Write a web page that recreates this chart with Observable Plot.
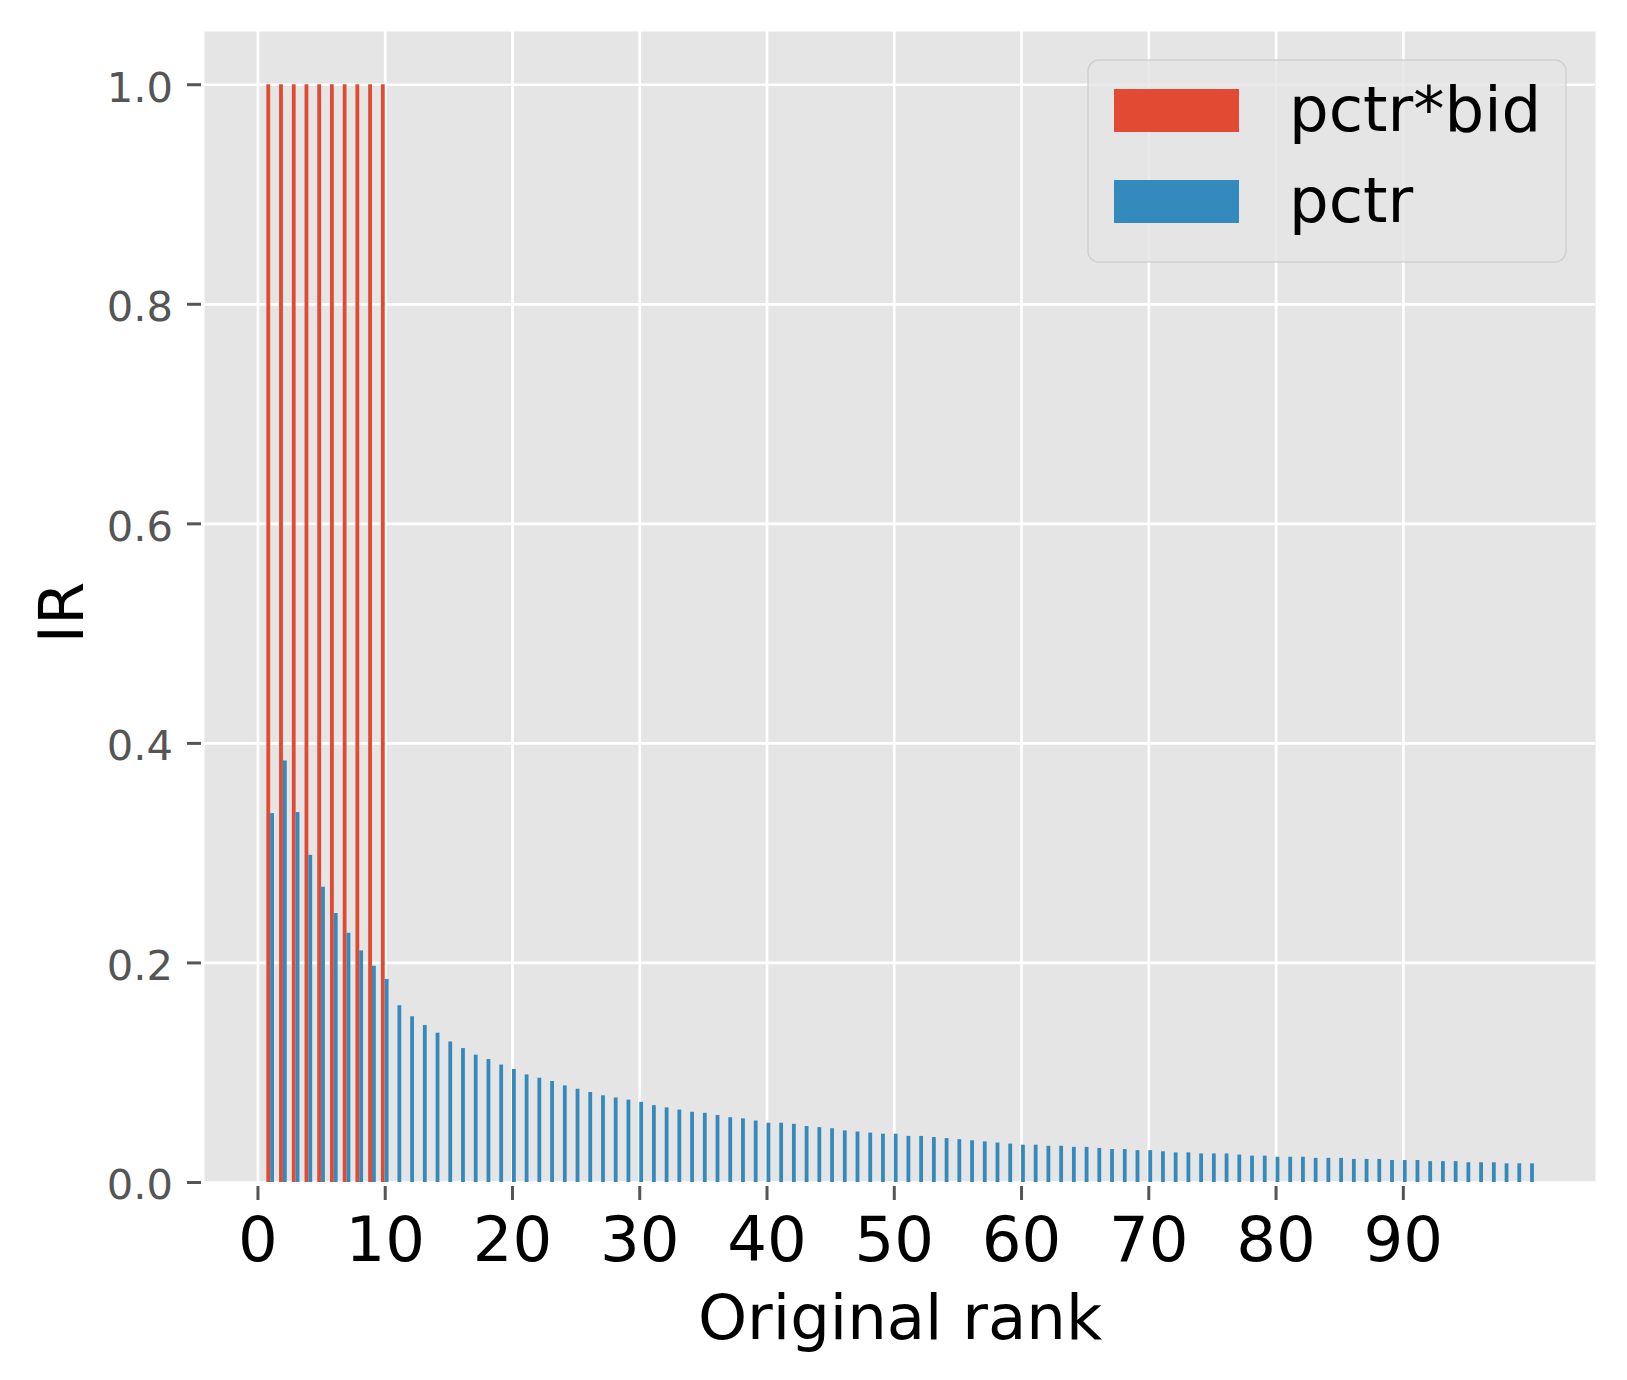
<!DOCTYPE html>
<html>
<head>
<meta charset="utf-8">
<script src="https://cdn.jsdelivr.net/npm/d3@7"></script>
<script src="https://cdn.jsdelivr.net/npm/@observablehq/plot@0.6"></script>
<style>
  html, body { margin: 0; padding: 0; background: white; }
  #chart svg { display: block; }
</style>
</head>
<body>
<div id="chart"></div>
<script>
// ---- data ----
const seriesNames = ["pctr*bid", "pctr"];
const seriesColors = ["#E24A33", "#348ABD"];
const pctrBid = [1, 1, 1, 1, 1, 1, 1, 1, 1, 1];
const pctr = [
  0.336, 0.384, 0.337, 0.298, 0.269, 0.245, 0.227, 0.211, 0.197, 0.185,
  0.161, 0.151, 0.143, 0.136, 0.128, 0.122, 0.116, 0.112, 0.107, 0.103,
  0.098, 0.095, 0.092, 0.088, 0.085, 0.082, 0.079, 0.077, 0.075, 0.073,
  0.070, 0.068, 0.066, 0.064, 0.063, 0.061, 0.059, 0.058, 0.056, 0.054,
  0.054, 0.053, 0.051, 0.050, 0.049, 0.047, 0.046, 0.045, 0.044, 0.044,
  0.042, 0.042, 0.041, 0.040, 0.039, 0.038, 0.037, 0.036, 0.035, 0.034,
  0.034, 0.033, 0.033, 0.032, 0.032, 0.031, 0.030, 0.030, 0.029, 0.029,
  0.028, 0.027, 0.027, 0.026, 0.026, 0.026, 0.025, 0.024, 0.024, 0.023,
  0.023, 0.023, 0.022, 0.022, 0.022, 0.021, 0.021, 0.021, 0.020, 0.020,
  0.020, 0.019, 0.019, 0.019, 0.018, 0.018, 0.018, 0.017, 0.017, 0.017
];
const xTicks = [0, 10, 20, 30, 40, 50, 60, 70, 80, 90];
const yTicks = [0.0, 0.2, 0.4, 0.6, 0.8, 1.0];
const xLabel = "Original rank";
const yLabel = "IR";

// ---- tables ----
const barW = 0.3;
const redData = pctrBid.map((v, i) => ({rank: i + 1, value: v}));
const blueData = pctr.map((v, i) => ({rank: i + 1, value: v}));

const FONT = "DejaVu Sans";
const chart = Plot.plot({
  width: 1627,
  height: 1380,
  marginLeft: 204,
  marginRight: 32,
  marginTop: 31,
  marginBottom: 198,
  style: {fontFamily: FONT, background: "white", overflow: "visible"},
  x: {type: "linear", domain: [-4.2, 105.1], axis: null},
  y: {type: "linear", domain: [0, 1.0485], axis: null},
  marks: [
    Plot.frame({fill: "#E5E5E5", stroke: null}),
    Plot.gridX(xTicks, {stroke: "white", strokeOpacity: 1, strokeWidth: 2.7}),
    Plot.gridY(yTicks, {stroke: "white", strokeOpacity: 1, strokeWidth: 2.7}),
    Plot.rectY(redData, {x1: d => d.rank - barW, x2: d => d.rank, y: "value", fill: seriesColors[0]}),
    Plot.rectY(blueData, {x1: d => d.rank, x2: d => d.rank + barW, y: "value", fill: seriesColors[1]}),
    // x ticks
    Plot.axisX(xTicks, {anchor: "bottom", tickSize: 14, dy: 4, tickFormat: () => "", stroke: "#555555", strokeWidth: 3, label: null}),
    Plot.axisX(xTicks, {anchor: "bottom", tickSize: 0, tickPadding: 34.6, tickFormat: d => String(d), fill: "black", fontSize: 62.5, label: null}),
    // y ticks
    Plot.axisY(yTicks, {anchor: "left", tickSize: 14, dx: -3, tickFormat: () => "", stroke: "#555555", strokeWidth: 3, label: null}),
    Plot.axisY(yTicks, {anchor: "left", tickSize: 0, tickPadding: 31.5, dy: 3.5, tickFormat: d3.format(".1f"), fill: "#555555", fontSize: 41.67, label: null}),
    // axis labels
    Plot.text([xLabel], {frameAnchor: "bottom", textAnchor: "middle", lineAnchor: "bottom", dy: 156, fontSize: 62.5, fill: "black", text: d => d}),
    Plot.text([yLabel], {frameAnchor: "left", textAnchor: "middle", lineAnchor: "bottom", rotate: -90, dx: -122, dy: 5.5, fontSize: 62.5, fill: "black", text: d => d})
  ]
});
document.getElementById("chart").appendChild(chart);

// ---- legend (drawn on top of the plot) ----
const svg = d3.select(chart);
const lg = svg.append("g").attr("class", "legend").attr("text-anchor", "start");
lg.append("rect")
  .attr("x", 1088).attr("y", 60).attr("width", 478).attr("height", 202)
  .attr("rx", 11).attr("ry", 11)
  .attr("fill", "#E5E5E5").attr("fill-opacity", 0.8)
  .attr("stroke", "#cccccc").attr("stroke-opacity", 0.8).attr("stroke-width", 1.5);
const rowY = [89, 180];
const rowBase = [131, 222];
seriesNames.forEach((name, i) => {
  lg.append("rect")
    .attr("x", 1114).attr("y", rowY[i]).attr("width", 125).attr("height", 43)
    .attr("fill", seriesColors[i]);
  lg.append("text")
    .attr("x", 1289).attr("y", rowBase[i])
    .attr("text-anchor", "start")
    .attr("font-family", FONT).attr("font-size", 62.5).attr("fill", "black")
    .text(name);
});
</script>
</body>
</html>
